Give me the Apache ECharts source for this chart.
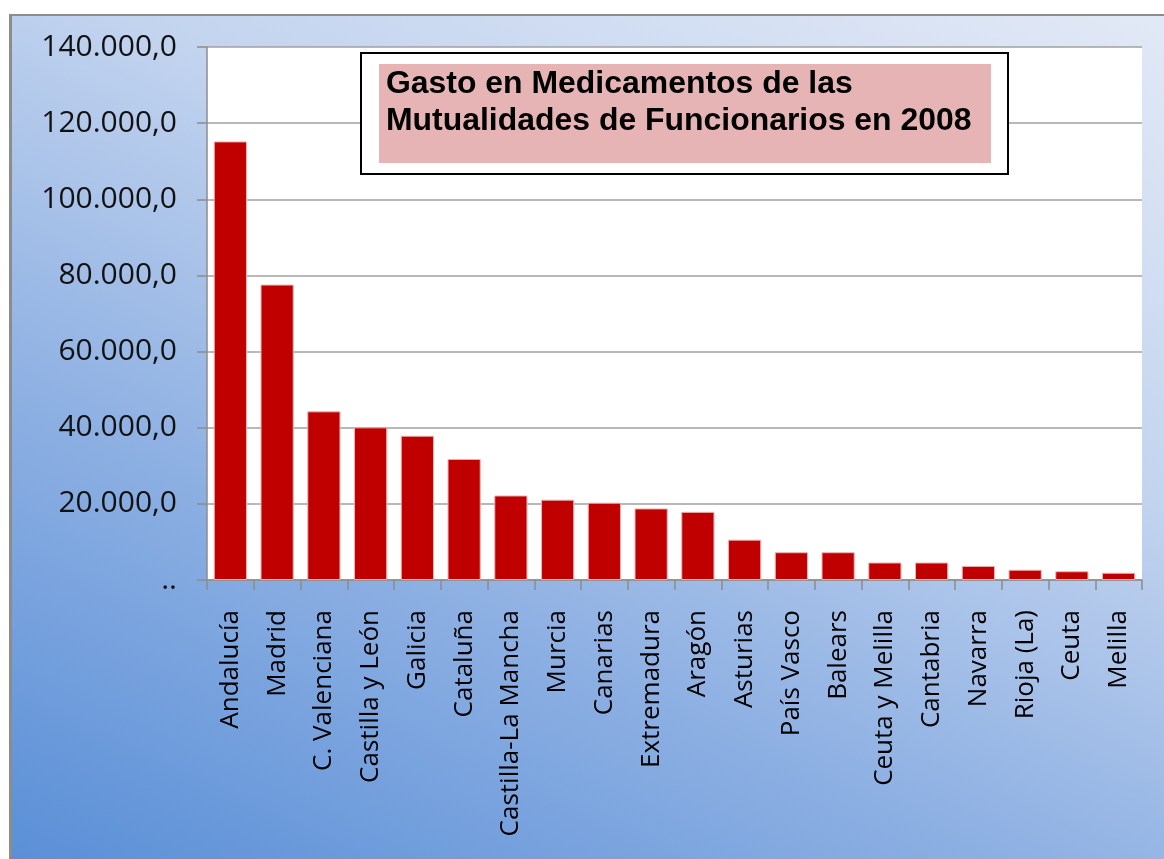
<!DOCTYPE html>
<html>
<head>
<meta charset="utf-8">
<script src="https://cdn.jsdelivr.net/npm/echarts@6/dist/echarts.min.js"></script>
<style>
  html, body { margin: 0; padding: 0; background: #fff; }
  #frame {
    position: absolute; left: 9px; top: 14px; width: 1155px; height: 845px;
    border-left: 3px solid #8c8c8c; border-top: 2px solid #8c8c8c;
    background: linear-gradient(25deg, #5a8fd7 0%, #8fb1e3 35%, #c3d4ef 65%, #e2e9f6 100%);
  }
  #chart { position: absolute; left: 0; top: 0; width: 1164px; height: 859px; }
</style>
</head>
<body>
<div id="frame"></div>
<div id="chart"></div>
<script>
// comunidades
const regions = ['Andalucía', 'Madrid', 'C. Valenciana', 'Castilla y León', 'Galicia', 'Cataluña',
  'Castilla-La Mancha', 'Murcia', 'Canarias', 'Extremadura', 'Aragón', 'Asturias', 'País Vasco',
  'Balears', 'Ceuta y Melilla', 'Cantabria', 'Navarra', 'Rioja (La)', 'Ceuta', 'Melilla']
// gasto (miles de euros)
const gasto = [115200, 77600, 44300, 40100, 37900, 31800, 22200, 21100, 20300, 18800, 17900,
  10600, 7300, 7300, 4600, 4600, 3700, 2700, 2300, 1900]
const yTicks = [0, 20000, 40000, 60000, 80000, 100000, 120000, 140000]
const titleLines = ['Gasto en Medicamentos de las', 'Mutualidades de Funcionarios en 2008']

const chart = echarts.init(document.getElementById('chart'))

// formato español: 140.000,0 y el cero como ".."
function fmt(v) {
  if (v === 0) return '..'
  return String(v).replace(/\B(?=(\d{3})+(?!\d))/g, '.') + ',0'
}

const option = {
  backgroundColor: 'transparent',
  animation: false,
  grid: {
    left: 207, top: 47, right: 22, bottom: 279,
    show: true, backgroundColor: '#fff', borderWidth: 0
  },
  xAxis: {
    type: 'category',
    data: regions,
    axisLine: { lineStyle: { color: '#8c8c8c', width: 1.5 } },
    axisTick: { show: true, length: 10, lineStyle: { color: '#8c8c8c', width: 1.5 } },
    axisLabel: {
      rotate: 90, interval: 0, margin: 30,
      fontFamily: 'Open Sans', fontSize: 26, color: '#000'
    }
  },
  yAxis: {
    type: 'value',
    min: yTicks[0], max: yTicks[yTicks.length - 1], interval: 20000,
    axisLine: { show: true, lineStyle: { color: '#8c8c8c', width: 1.5 } },
    axisTick: { show: true, length: 10, lineStyle: { color: '#8c8c8c', width: 1.5 } },
    splitLine: { lineStyle: { color: '#a0a0a0', width: 1.5 } },
    axisLabel: {
      margin: 30, formatter: fmt,
      fontFamily: 'Open Sans', fontSize: 30, color: '#111'
    }
  },
  series: [{
    type: 'bar',
    data: gasto,
    barCategoryGap: '29%',
    itemStyle: { color: '#c00000', borderColor: '#eeb0b0', borderWidth: 1 }
  }],
  graphic: [{
    type: 'group', left: 360, top: 52, zlevel: 1,
    children: [
      { type: 'rect', z: 100, shape: { x: 0, y: 0, width: 647, height: 121 },
        style: { fill: '#fff', stroke: '#000', lineWidth: 2 } },
      { type: 'rect', z: 101, shape: { x: 18, y: 11, width: 612, height: 99 },
        style: { fill: '#e6b4b4' } },
      { type: 'text', z: 102, x: 25, y: 13, scaleX: 1.03,
        style: {
          text: titleLines.join('\n'), fill: '#000',
          font: 'bold 31px "Liberation Sans", Arial, sans-serif', lineHeight: 37
        } }
    ]
  }]
}

chart.setOption(option)
window.addEventListener('resize', () => {
  chart.resize()
})
</script>
</body>
</html>
